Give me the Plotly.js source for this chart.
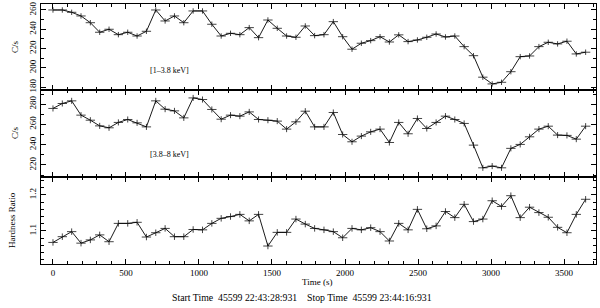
<!DOCTYPE html>
<html><head><meta charset="utf-8">
<script src="https://cdn.plot.ly/plotly-3.0.1.min.js"></script>
<style>html,body{margin:0;padding:0;background:#fff;}#chart{width:600px;height:308px;}</style>
</head><body><div id="chart"></div>
<script>
var timeSec = [0,64,128,192,256,320,384,448,512,576,640,704,768,832,896,960,1024,1088,1152,1216,1280,1344,1408,1472,1536,1600,1664,1728,1792,1856,1920,1984,2048,2112,2176,2240,2304,2368,2432,2496,2560,2624,2688,2752,2816,2880,2944,3008,3072,3136,3200,3264,3328,3392,3456,3520,3584,3648];
var rateSoft = [260,260,257.6,253.8,246.8,236.9,240,234.4,236.9,233,237.9,260,248.6,253.8,246.8,259,259,245.2,233,235.8,234.4,241.7,231.3,249.6,241,233,231.7,243.4,233.4,234.4,247.9,232.3,219.3,225.5,228.2,232.3,226.8,234.2,227.2,228.9,231.7,235.1,232,233,222,212.6,190.3,183.3,185,196,211.6,212.3,222,226.5,224.8,227.6,214.4,216.2];
var rateHard = [275.8,280.7,283.3,269.2,264.2,258.6,256.7,262,264.9,261.6,257.6,283.3,275.1,273.4,266.5,286.2,284.6,274.8,265.2,269.2,268.2,272.4,264.9,264.2,263.3,255.4,262.6,273.1,257.6,257.6,271.8,250.1,242.9,248.5,252.7,255.4,242.2,262,250.8,265.9,256,262,268.2,264.9,261,239.6,217.2,218.9,217.2,236.4,240.3,247.8,255.4,258.3,249.5,249.2,245.5,258.3];
var hardness = [1.068,1.084,1.098,1.066,1.075,1.089,1.070,1.121,1.121,1.124,1.083,1.095,1.107,1.084,1.084,1.104,1.103,1.121,1.135,1.140,1.146,1.128,1.146,1.058,1.096,1.096,1.133,1.119,1.107,1.103,1.098,1.081,1.107,1.103,1.109,1.098,1.072,1.121,1.103,1.160,1.106,1.114,1.154,1.137,1.174,1.126,1.133,1.184,1.168,1.198,1.137,1.166,1.151,1.138,1.110,1.095,1.146,1.188];
var xTickVals = [0,500,1000,1500,2000,2500,3000,3500];
var bandLabels = ["[1\u20133.8 keV]", "[3.8\u20138 keV]"];
var yTitles = ["C/s", "C/s", "Hardness Ratio"];
var timeTitle = "Time (s)";
var footer = "Start Time  45599 22:43:28:931    Stop Time  45599 23:44:16:931";

var FONT = "Liberation Serif, Times New Roman, serif";
function trace(y, xa, ya, ey) {
  return {x: timeSec, y: y, xaxis: xa, yaxis: ya, type: 'scatter', mode: 'lines',
    line: {color: '#000', width: 0.9},
    error_x: {type: 'constant', value: 32, width: 0, thickness: 1, color: '#444'},
    error_y: {type: 'constant', value: ey, width: 0, thickness: 1, color: '#444'},
    hoverinfo: 'skip', showlegend: false};
}
var data = [trace(rateSoft, 'x', 'y', 2.8), trace(rateHard, 'x2', 'y2', 3), trace(hardness, 'x3', 'y3', 0.009)];

function xax(anchor, labels) {
  return {anchor: anchor, range: [-82, 3719], tickvals: xTickVals, ticktext: xTickVals.map(String),
    showticklabels: labels, ticks: 'inside', ticklen: 5, tickwidth: 1, tickcolor: '#000',
    minor: {dtick: 100, ticks: 'inside', ticklen: 3, tickcolor: '#000', tickwidth: 1, showgrid: false},
    showline: true, linecolor: '#000', linewidth: 1, mirror: 'allticks', showgrid: false, zeroline: false,
    tickfont: {family: FONT, size: 9, color: '#000'}};
}
function yax(anchor, dom, rng, dt, mdt) {
  return {anchor: anchor, domain: dom, range: rng, dtick: dt, tick0: 0, tickangle: -90,
    ticks: 'inside', ticklen: 5, tickwidth: 1, tickcolor: '#000',
    minor: {dtick: mdt, ticks: 'inside', ticklen: 3, tickcolor: '#000', tickwidth: 1, showgrid: false},
    showline: true, linecolor: '#000', linewidth: 1, mirror: 'allticks', showgrid: false, zeroline: false,
    tickfont: {family: FONT, size: 9, color: '#000'}};
}
function ann(text, x, y, size, angle) {
  return {text: text, xref: 'paper', yref: 'paper', x: x, y: y, showarrow: false,
    xanchor: 'center', yanchor: 'middle', textangle: angle || 0,
    font: {family: FONT, size: size, color: '#000'}};
}
// plot area px: left 41, right 596, top 4, bottom 264
function px(x) { return (x - 41) / 555; }
function py(y) { return (264 - y) / 260; }
var layout = {
  width: 600, height: 308, paper_bgcolor: '#fff', plot_bgcolor: '#fff',
  margin: {l: 41, r: 4, t: 4, b: 44},
  font: {family: FONT, size: 9, color: '#000'},
  xaxis: xax('y', false), xaxis2: xax('y2', false), xaxis3: xax('y3', true),
  yaxis: yax('x', [0.6692, 1], [177, 266.2], 20, 10),
  yaxis2: yax('x2', [0.336, 0.6692], [208.5, 294], 20, 10),
  yaxis3: yax('x3', [0, 0.336], [1.008, 1.251], 0.1, 0.02),
  annotations: [
    ann(yTitles[0], px(15), py(47), 9, -90),
    ann(yTitles[1], px(15), py(133), 9, -90),
    ann(yTitles[2], px(12), py(220), 9, -90),
    ann(bandLabels[0], px(169), py(70), 8),
    ann(bandLabels[1], px(169), py(155), 8),
    ann(timeTitle, px(317), py(282), 9),
    ann(footer, px(302), py(297), 9.8)
  ]
};
Plotly.newPlot('chart', data, layout, {staticPlot: true, displayModeBar: false});
</script></body></html>
